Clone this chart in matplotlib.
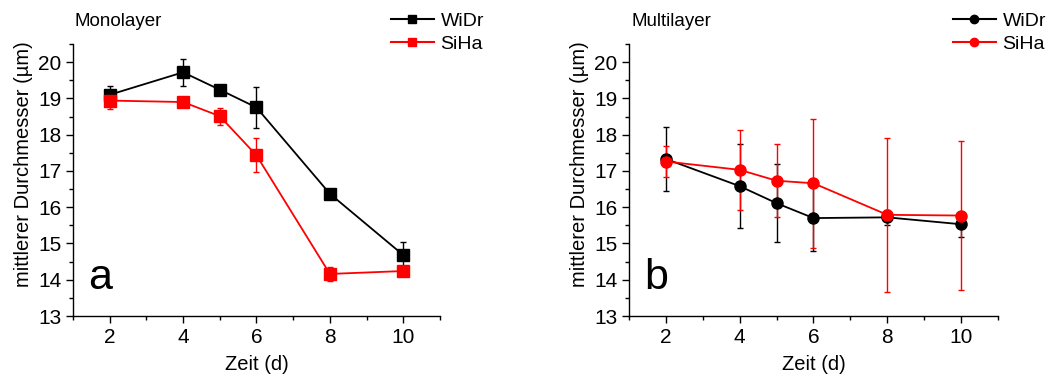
import matplotlib.pyplot as plt
from matplotlib.lines import Line2D
from matplotlib.ticker import MultipleLocator

plt.rcParams['font.family'] = ['Liberation Sans', 'DejaVu Sans']

# time points (days)
days = [2, 4, 5, 6, 8, 10]

# monolayer diameters (µm) and standard deviations
mono_widr = [19.10, 19.72, 19.24, 18.75, 16.37, 14.68]
mono_widr_err = [0.25, 0.38, 0.05, 0.56, 0.05, 0.37]
mono_siha = [18.94, 18.90, 18.51, 17.43, 14.16, 14.24]
mono_siha_err = [0.22, 0.10, 0.23, 0.47, 0.20, 0.08]

# multilayer diameters (µm) and standard deviations
multi_widr = [17.33, 16.58, 16.11, 15.70, 15.72, 15.53]
multi_widr_err = [0.88, 1.16, 1.08, 0.92, 0.20, 0.35]
multi_siha = [17.26, 17.03, 16.73, 16.66, 15.79, 15.77]
multi_siha_err = [0.43, 1.10, 1.00, 1.78, 2.13, 2.06]

panels = [
    dict(title='Monolayer', letter='a', marker='s', ms=8,
         widr=(mono_widr, mono_widr_err), siha=(mono_siha, mono_siha_err),
         rect=[0.0687, 0.1706, 0.3456, 0.7139], leg=(391 / 1062, 1 - 12 / 381)),
    dict(title='Multilayer', letter='b', marker='o', ms=8,
         widr=(multi_widr, multi_widr_err), siha=(multi_siha, multi_siha_err),
         rect=[0.5923, 0.1706, 0.3474, 0.7139], leg=(953 / 1062, 1 - 12 / 381)),
]

fig = plt.figure(figsize=(10.62, 3.81), dpi=100)

for p in panels:
    ax = fig.add_axes(p['rect'])
    handles = []
    for name, color, key in [('WiDr', 'black', 'widr'), ('SiHa', 'red', 'siha')]:
        vals, errs = p[key]
        ax.errorbar(days, vals, yerr=errs, color=color, ecolor=color,
                    marker=p['marker'], markersize=p['ms'], linewidth=1.3,
                    elinewidth=1.0, capsize=2.5, capthick=1.0)
        handles.append(Line2D([], [], color=color, marker=p['marker'],
                              markersize=p['ms'] * 0.75, linewidth=1.5, label=name))

    ax.set_xlim(1, 11)
    ax.set_ylim(13, 20.5)
    ax.set_xticks([2, 4, 6, 8, 10])
    ax.xaxis.set_minor_locator(MultipleLocator(1))
    ax.yaxis.set_major_locator(MultipleLocator(1))
    ax.yaxis.set_minor_locator(MultipleLocator(0.5))

    for side in ['top', 'right']:
        ax.spines[side].set_visible(False)
    for side in ['left', 'bottom']:
        ax.spines[side].set_linewidth(1.0)
    ax.tick_params(which='major', length=5, width=1.0, labelsize=15, direction='out')
    ax.tick_params(which='minor', length=3, width=1.0, direction='out')

    ax.set_xlabel('Zeit (d)', fontsize=14.5)
    ax.xaxis.set_label_coords(0.5, -0.145)
    ax.xaxis.label.set_va('top')
    ax.set_ylabel('mittlerer Durchmesser (µm)', fontsize=14.5)
    ax.yaxis.set_label_coords(-0.108, 0.56)

    x0 = p['rect'][0]
    fig.text(x0 + 2 / 1062, 1 - 21 / 381, p['title'], fontsize=13.5,
             ha='left', va='center')
    ax.text(0.04, 0.065, p['letter'], transform=ax.transAxes, fontsize=31,
            ha='left', va='bottom')

    fig.legend(handles=handles, loc='upper left', bbox_to_anchor=p['leg'],
               frameon=False, fontsize=14, handlelength=2.2, handletextpad=0.35,
               labelspacing=0.3, borderaxespad=0.0, borderpad=0.0)

fig.savefig('out.png', dpi=100)
